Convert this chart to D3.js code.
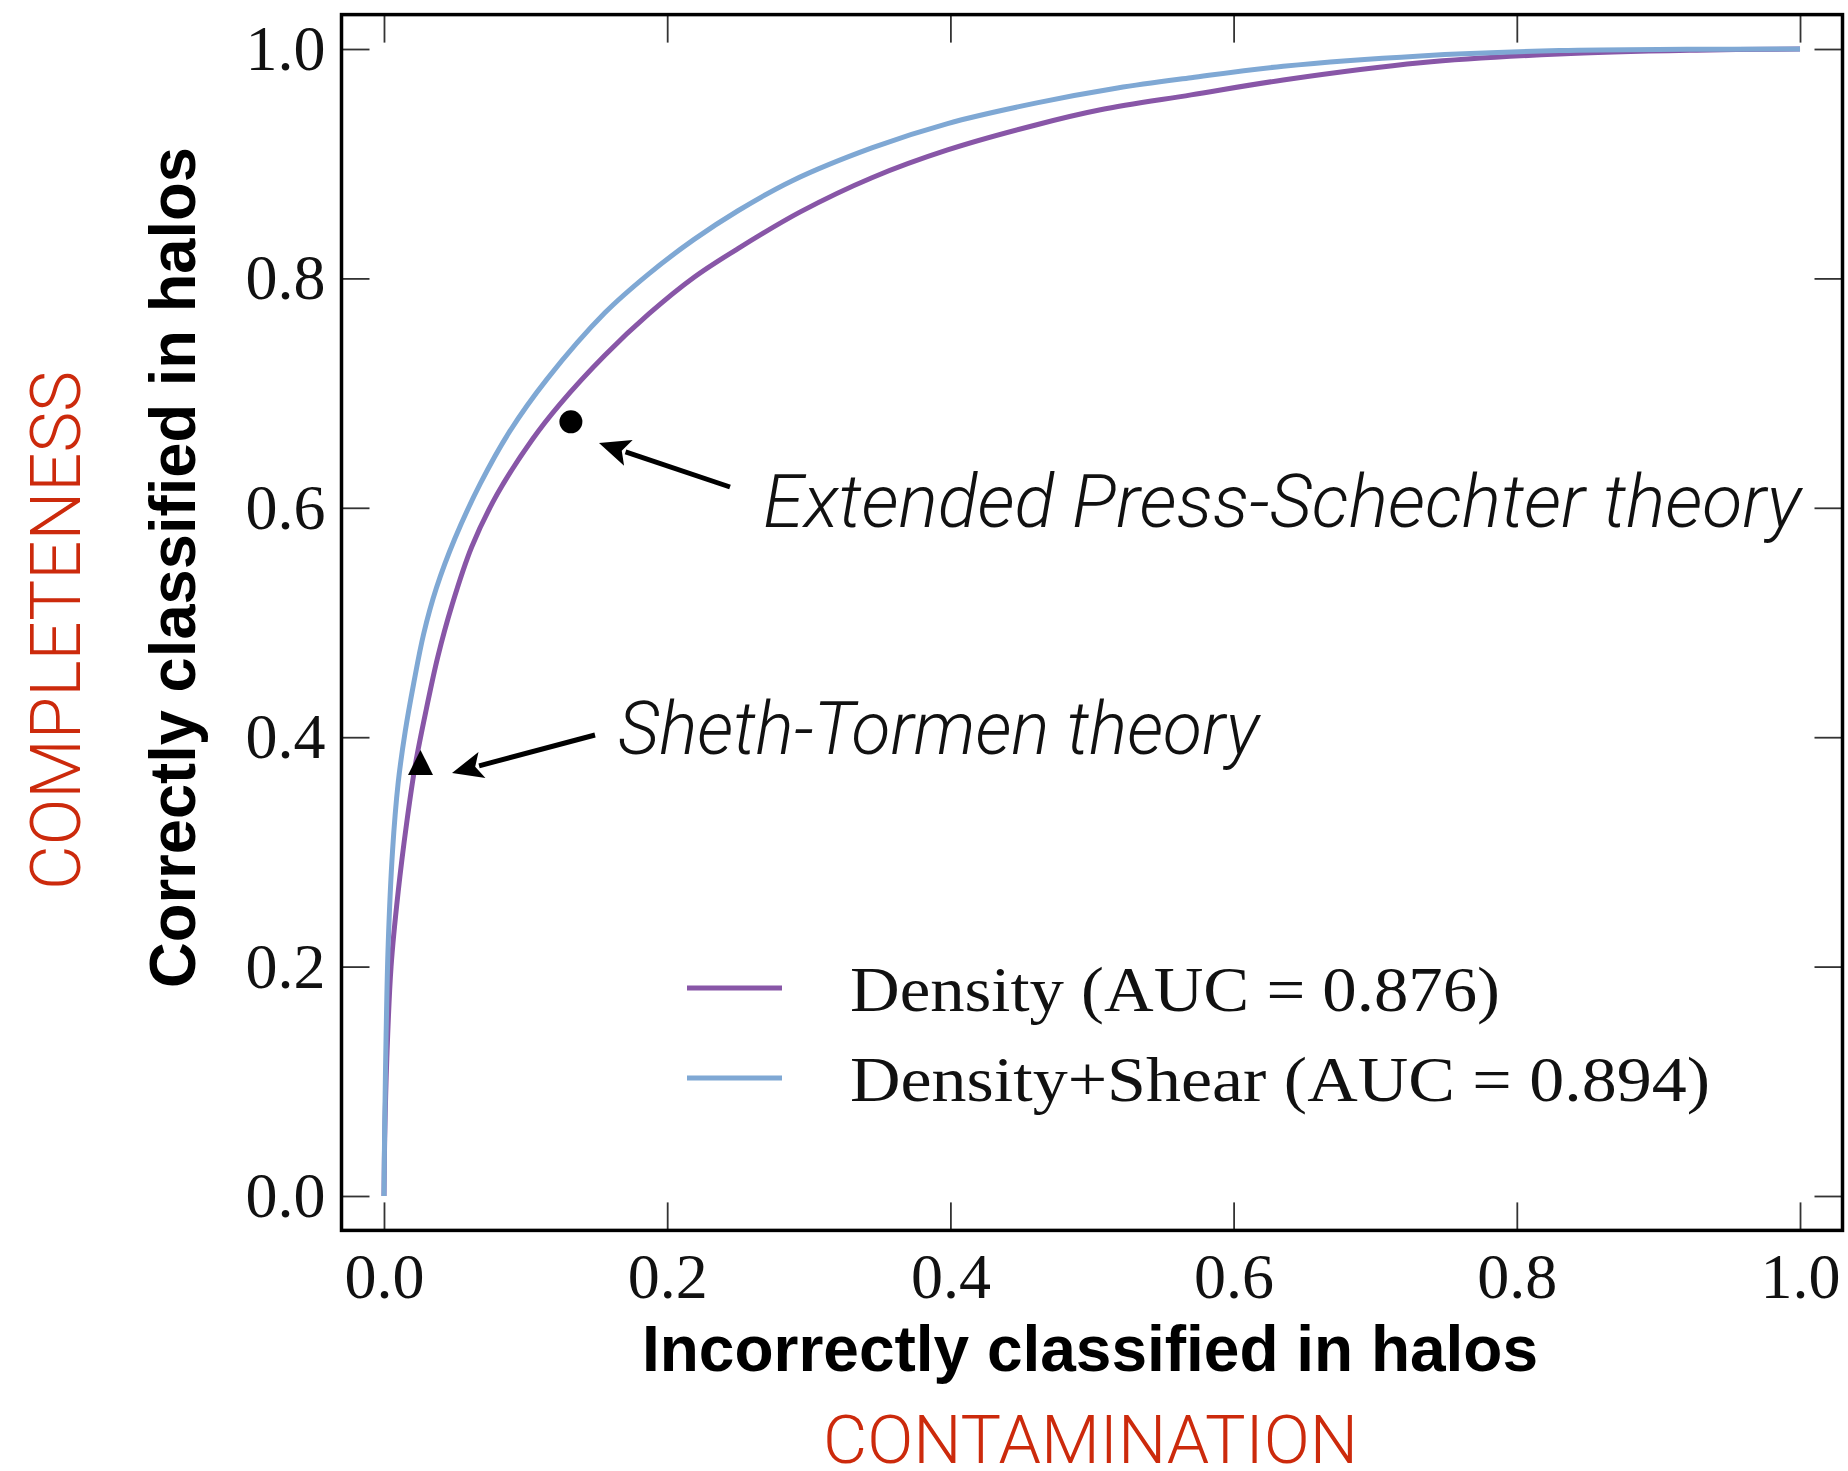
<!DOCTYPE html>
<html>
<head>
<meta charset="utf-8">
<script src="https://cdn.jsdelivr.net/npm/d3@7"></script>
<style>
  html, body { margin: 0; padding: 0; background: #fff; }
  svg { display: block; }
</style>
</head>
<body>
<svg id="chart" width="1848" height="1471"></svg>
<script>
// ---- data ----
const densityX = [0, 0.0005, 0.002, 0.005, 0.010, 0.016, 0.022, 0.030, 0.038, 0.048, 0.062, 0.080, 0.105, 0.124, 0.156, 0.187, 0.219, 0.250, 0.294, 0.345, 0.398, 0.461, 0.506, 0.570, 0.635, 0.732, 0.830, 0.927, 1.0];
const densityY = [0, 0.05, 0.12, 0.20, 0.265, 0.325, 0.375, 0.425, 0.47, 0.515, 0.566, 0.612, 0.660, 0.690, 0.733, 0.769, 0.801, 0.826, 0.858, 0.888, 0.912, 0.934, 0.947, 0.960, 0.973, 0.988, 0.9957, 0.999, 1.0];
const shearX = [0, 0.0005, 0.0015, 0.003, 0.006, 0.010, 0.015, 0.021, 0.028, 0.037, 0.050, 0.068, 0.089, 0.115, 0.156, 0.187, 0.219, 0.250, 0.288, 0.345, 0.398, 0.461, 0.518, 0.570, 0.635, 0.732, 0.830, 0.920, 1.0];
const shearY = [0, 0.06, 0.14, 0.22, 0.30, 0.36, 0.405, 0.447, 0.49, 0.53, 0.573, 0.621, 0.667, 0.712, 0.770, 0.804, 0.834, 0.859, 0.885, 0.914, 0.935, 0.953, 0.966, 0.975, 0.985, 0.994, 0.9986, 0.9997, 1.0];
const seriesNames = ["Density (AUC = 0.876)", "Density+Shear (AUC = 0.894)"];
const tickValues = [0, 0.2, 0.4, 0.6, 0.8, 1.0];
const epsPoint = [0.132, 0.675];   // Extended Press-Schechter theory
const stPoint = [0.0258, 0.378];   // Sheth-Tormen theory
const annotations = ["Extended Press-Schechter theory", "Sheth-Tormen theory"];
const xLabel = "Incorrectly classified in halos";
const yLabel = "Correctly classified in halos";
const xSub = "CONTAMINATION";
const ySub = "COMPLETENESS";

// ---- layout ----
const svg = d3.select("#chart");
const x = d3.scaleLinear().domain([-0.03, 1.03]).range([341.5, 1842.5]);
const y = d3.scaleLinear().domain([-0.03, 1.03]).range([1230.4, 14.6]);
const colors = ["#8856a7", "#7fa8d4"];
const serif = "'Liberation Serif', 'Times New Roman', serif";
const sans = "'Liberation Sans', Arial, Helvetica, sans-serif";
const light = "Roboto, 'Open Sans', Lato, sans-serif";
const red = "#cc2a0c";

const x0 = x.range()[0], x1 = x.range()[1], y0 = y.range()[0], y1 = y.range()[1];

// axes (ticks inside)
function styleAxis(g) {
  g.select(".domain").remove();
  g.selectAll(".tick line").attr("stroke", "#333").attr("stroke-width", 1.8);
  g.selectAll(".tick text").attr("font-family", serif).attr("font-size", 64).attr("fill", "#111");
}
svg.append("g").attr("transform", `translate(0,${y0})`)
  .call(d3.axisBottom(x).tickValues(tickValues).tickSize(-28).tickPadding(22).tickFormat(d3.format(".1f")))
  .call(styleAxis);
svg.append("g").attr("transform", `translate(0,${y1})`)
  .call(d3.axisTop(x).tickValues(tickValues).tickSize(-28).tickFormat(""))
  .call(styleAxis);
svg.append("g").attr("transform", `translate(${x0},0)`)
  .call(d3.axisLeft(y).tickValues(tickValues).tickSize(-28).tickPadding(16).tickFormat(d3.format(".1f")))
  .call(styleAxis);
svg.append("g").attr("transform", `translate(${x1},0)`)
  .call(d3.axisRight(y).tickValues(tickValues).tickSize(-28).tickFormat(""))
  .call(styleAxis);

// curves
const line = d3.line().x(d => x(d[0])).y(d => y(d[1])).curve(d3.curveCatmullRom.alpha(0.5));
const dens = densityX.map((v, i) => [v, densityY[i]]);
const shear = shearX.map((v, i) => [v, shearY[i]]);
[dens, shear].forEach((data, i) => {
  svg.append("path").datum(data)
    .attr("d", line)
    .attr("fill", "none")
    .attr("stroke", colors[i])
    .attr("stroke-width", 5);
});

// frame
svg.append("rect")
  .attr("x", x0).attr("y", y1)
  .attr("width", x1 - x0).attr("height", y0 - y1)
  .attr("fill", "none").attr("stroke", "#000").attr("stroke-width", 3.5);

// markers
svg.append("circle")
  .attr("cx", x(epsPoint[0])).attr("cy", y(epsPoint[1])).attr("r", 11.5).attr("fill", "#000");
svg.append("path")
  .attr("transform", `translate(${x(stPoint[0])},${y(stPoint[1])})`)
  .attr("d", "M0,-12.5L12.5,12.5L-12.5,12.5Z")
  .attr("fill", "#000");

// arrows
function arrow(tail, tip) {
  const dx = tip[0] - tail[0], dy = tip[1] - tail[1];
  const len = Math.hypot(dx, dy);
  const ux = dx / len, uy = dy / len;
  const hl = 31, hw = 13.5;
  const bx = tip[0] - ux * hl, by = tip[1] - uy * hl;
  svg.append("line")
    .attr("x1", tail[0]).attr("y1", tail[1])
    .attr("x2", bx + ux * 3).attr("y2", by + uy * 3)
    .attr("stroke", "#000").attr("stroke-width", 5);
  svg.append("path")
    .attr("d", `M${tip[0]},${tip[1]}L${bx - uy * hw},${by + ux * hw}L${bx + ux * 7},${by + uy * 7}L${bx + uy * hw},${by - ux * hw}Z`)
    .attr("fill", "#000");
}
arrow([730, 487], [599, 443]);
arrow([595, 735], [452, 773]);

// annotation text
svg.append("text").attr("x", 763).attr("y", 527)
  .attr("font-family", light).attr("font-style", "italic").attr("font-weight", 300)
  .attr("font-size", 74).attr("fill", "#111")
  .attr("textLength", 1038).attr("lengthAdjust", "spacingAndGlyphs")
  .text(annotations[0]);
svg.append("text").attr("x", 618).attr("y", 754)
  .attr("font-family", light).attr("font-style", "italic").attr("font-weight", 300)
  .attr("font-size", 74).attr("fill", "#111")
  .attr("textLength", 641).attr("lengthAdjust", "spacingAndGlyphs")
  .text(annotations[1]);

// legend
const legendY = [988, 1078];
const legendLen = [650, 860];
seriesNames.forEach((name, i) => {
  svg.append("line")
    .attr("x1", 687).attr("x2", 782)
    .attr("y1", legendY[i]).attr("y2", legendY[i])
    .attr("stroke", colors[i]).attr("stroke-width", 5);
  svg.append("text")
    .attr("x", 850).attr("y", legendY[i] + 23)
    .attr("font-family", serif).attr("font-size", 64).attr("fill", "#111")
    .attr("textLength", legendLen[i]).attr("lengthAdjust", "spacingAndGlyphs")
    .text(name);
});

// axis labels
svg.append("text").attr("x", 642).attr("y", 1371)
  .attr("font-family", sans).attr("font-weight", "bold").attr("font-size", 64).attr("fill", "#000")
  .attr("textLength", 896).attr("lengthAdjust", "spacingAndGlyphs")
  .text(xLabel);
svg.append("text").attr("x", 823).attr("y", 1463)
  .attr("font-family", light).attr("font-weight", 300).attr("font-size", 66).attr("fill", red)
  .attr("textLength", 535).attr("lengthAdjust", "spacingAndGlyphs")
  .text(xSub);
svg.append("text")
  .attr("transform", "translate(195,988) rotate(-90)")
  .attr("font-family", sans).attr("font-weight", "bold").attr("font-size", 64).attr("fill", "#000")
  .attr("textLength", 841).attr("lengthAdjust", "spacingAndGlyphs")
  .text(yLabel);
svg.append("text")
  .attr("transform", "translate(80,890) rotate(-90)")
  .attr("font-family", light).attr("font-weight", 300).attr("font-size", 70).attr("fill", red)
  .attr("textLength", 519).attr("lengthAdjust", "spacingAndGlyphs")
  .text(ySub);
</script>
</body>
</html>
